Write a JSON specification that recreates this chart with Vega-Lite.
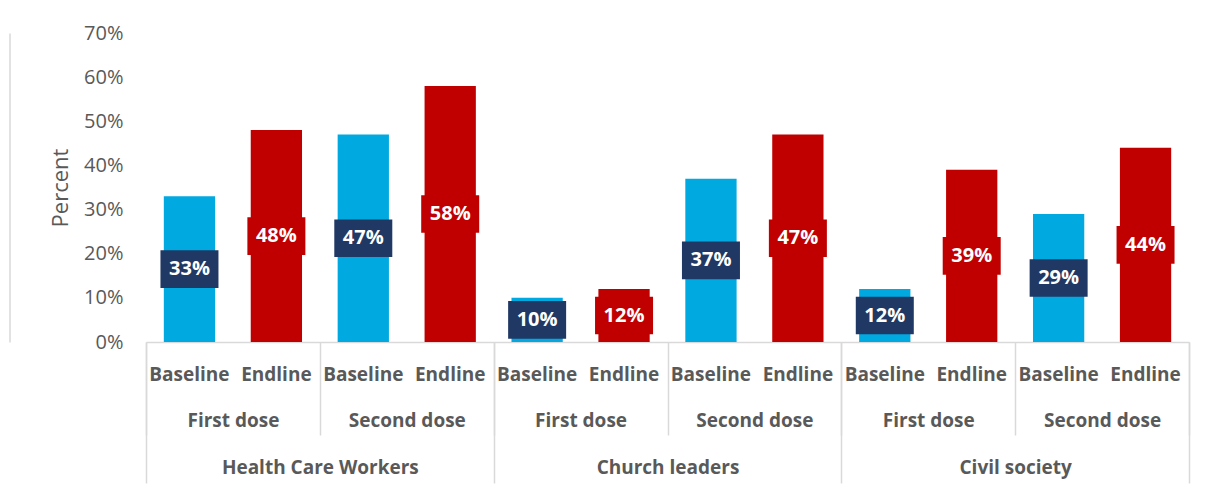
{
  "$schema": "https://vega.github.io/schema/vega-lite/v6.json",
  "width": 1043,
  "height": 309,
  "autosize": {"type": "none"},
  "padding": {"left": 146, "top": 33, "right": 16, "bottom": 144},
  "background": "white",
  "config": {
    "view": {"stroke": null},
    "font": "Open Sans"
  },
  "data": {
    "values": [
      {"group": "Health Care Workers", "dose": "First dose", "status": "Baseline", "gd": "Health Care Workers|First dose", "key": "Health Care Workers|First dose|Baseline", "value": 0.33},
      {"group": "Health Care Workers", "dose": "First dose", "status": "Endline", "gd": "Health Care Workers|First dose", "key": "Health Care Workers|First dose|Endline", "value": 0.48},
      {"group": "Health Care Workers", "dose": "Second dose", "status": "Baseline", "gd": "Health Care Workers|Second dose", "key": "Health Care Workers|Second dose|Baseline", "value": 0.47},
      {"group": "Health Care Workers", "dose": "Second dose", "status": "Endline", "gd": "Health Care Workers|Second dose", "key": "Health Care Workers|Second dose|Endline", "value": 0.58},
      {"group": "Church leaders", "dose": "First dose", "status": "Baseline", "gd": "Church leaders|First dose", "key": "Church leaders|First dose|Baseline", "value": 0.10},
      {"group": "Church leaders", "dose": "First dose", "status": "Endline", "gd": "Church leaders|First dose", "key": "Church leaders|First dose|Endline", "value": 0.12},
      {"group": "Church leaders", "dose": "Second dose", "status": "Baseline", "gd": "Church leaders|Second dose", "key": "Church leaders|Second dose|Baseline", "value": 0.37},
      {"group": "Church leaders", "dose": "Second dose", "status": "Endline", "gd": "Church leaders|Second dose", "key": "Church leaders|Second dose|Endline", "value": 0.47},
      {"group": "Civil society", "dose": "First dose", "status": "Baseline", "gd": "Civil society|First dose", "key": "Civil society|First dose|Baseline", "value": 0.12},
      {"group": "Civil society", "dose": "First dose", "status": "Endline", "gd": "Civil society|First dose", "key": "Civil society|First dose|Endline", "value": 0.39},
      {"group": "Civil society", "dose": "Second dose", "status": "Baseline", "gd": "Civil society|Second dose", "key": "Civil society|Second dose|Baseline", "value": 0.29},
      {"group": "Civil society", "dose": "Second dose", "status": "Endline", "gd": "Civil society|Second dose", "key": "Civil society|Second dose|Endline", "value": 0.44}
    ]
  },
  "layer": [
    {
      "mark": {"type": "bar", "width": {"band": 0.59}},
      "encoding": {
        "x": {
          "field": "key", "type": "nominal", "sort": null,
          "scale": {"paddingInner": 0, "paddingOuter": 0},
          "axis": {
            "orient": "bottom", "title": null, "labelAngle": 0,
            "labelExpr": "split(datum.value, '|')[2]",
            "ticks": false, "domain": true, "domainColor": "#D9D9D9", "domainWidth": 1.5,
            "labelPadding": 23, "labelFontSize": 19, "labelFontWeight": "bold",
            "labelColor": "#595959", "labelOverlap": false, "labelLimit": 0
          }
        },
        "y": {
          "field": "value", "type": "quantitative",
          "scale": {"domain": [0, 0.7], "nice": false},
          "axis": {
            "values": [0, 0.1, 0.2, 0.3, 0.4, 0.5, 0.6, 0.7], "format": ".0%",
            "grid": false, "domain": false, "ticks": false,
            "labelPadding": 23, "labelFontSize": 20, "labelColor": "#595959",
            "title": "Percent", "titleFontSize": 22, "titleFontWeight": "normal",
            "titleColor": "#595959", "titlePadding": 11
          }
        },
        "color": {
          "field": "status", "type": "nominal",
          "scale": {"domain": ["Baseline", "Endline"], "range": ["#00A9E0", "#C00000"]},
          "legend": null
        }
      }
    },
    {
      "mark": {"type": "point", "filled": true, "opacity": 1, "size": 3364,
               "shape": "M-1,-0.65H1V0.65H-1Z"},
      "encoding": {
        "x": {"field": "key", "type": "nominal", "sort": null,
              "scale": {"paddingInner": 0, "paddingOuter": 0}, "axis": null},
        "y": {
          "field": "value", "type": "quantitative",
          "scale": {"domain": [0, 1.4], "nice": false},
          "axis": {"orient": "left", "offset": 136.5, "domain": true, "domainColor": "#D9D9D9",
                   "domainWidth": 1.5, "labels": false, "ticks": false, "grid": false, "title": null}
        },
        "color": {
          "field": "status", "type": "nominal",
          "scale": {"domain": ["Baseline", "Endline"], "range": ["#203864", "#C00000"]},
          "legend": null
        }
      }
    },
    {
      "mark": {"type": "text", "color": "white", "fontSize": 20, "fontWeight": "bold",
               "align": "center", "baseline": "middle"},
      "encoding": {
        "x": {"field": "key", "type": "nominal", "sort": null,
              "scale": {"paddingInner": 0, "paddingOuter": 0}, "axis": null},
        "y": {"field": "value", "type": "quantitative",
              "scale": {"domain": [0, 1.4], "nice": false}, "axis": null},
        "text": {"field": "value", "type": "quantitative", "format": ".0%"}
      }
    },
    {
      "mark": {"type": "point", "opacity": 0},
      "encoding": {
        "x": {
          "field": "gd", "type": "nominal", "sort": null,
          "scale": {"paddingInner": 0, "paddingOuter": 0},
          "axis": {
            "orient": "bottom", "title": null, "labelAngle": 0,
            "labelExpr": "split(datum.value, '|')[1]",
            "ticks": true, "tickBand": "extent", "tickSize": 93, "tickColor": "#D9D9D9", "tickWidth": 1.5,
            "domain": false, "labelPadding": -23.5, "labelFontSize": 19, "labelFontWeight": "bold",
            "labelColor": "#595959", "labelOverlap": false, "labelLimit": 0
          }
        },
        "y": {"field": "value", "type": "quantitative", "axis": null}
      }
    },
    {
      "mark": {"type": "point", "opacity": 0},
      "encoding": {
        "x": {
          "field": "group", "type": "nominal", "sort": null,
          "scale": {"paddingInner": 0, "paddingOuter": 0},
          "axis": {
            "orient": "bottom", "title": null, "labelAngle": 0,
            "ticks": true, "tickBand": "extent", "tickSize": 141, "tickColor": "#D9D9D9", "tickWidth": 1.5,
            "domain": false, "labelPadding": -24.5, "labelFontSize": 19, "labelFontWeight": "bold",
            "labelColor": "#595959", "labelOverlap": false, "labelLimit": 0
          }
        },
        "y": {"field": "value", "type": "quantitative", "axis": null}
      }
    }
  ],
  "resolve": {
    "scale": {"x": "independent", "y": "independent", "color": "independent"},
    "axis": {"x": "independent", "y": "independent"}
  }
}
